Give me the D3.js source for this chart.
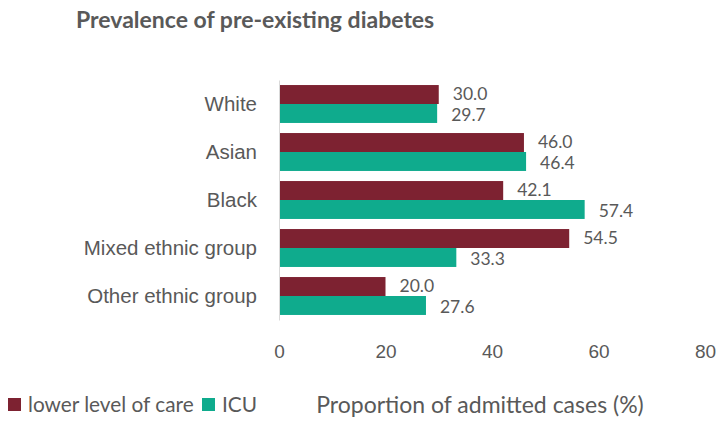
<!DOCTYPE html>
<html>
<head>
<meta charset="utf-8">
<script src="https://cdn.jsdelivr.net/npm/d3@7"></script>
<style>
  html, body { margin: 0; padding: 0; background: #fff; }
  svg { display: block; font-family: Lato, "Open Sans", sans-serif; }
</style>
</head>
<body>
<svg id="chart" width="718" height="421"></svg>
<script>
// Ethnic groups and the share of admitted cases with pre-existing diabetes
const categories = ["White", "Asian", "Black", "Mixed ethnic group", "Other ethnic group"];
const seriesNames = ["lower level of care", "ICU"];
const lowerCare = [30.0, 46.0, 42.1, 54.5, 20.0];
const icu = [29.7, 46.4, 57.4, 33.3, 27.6];
const xTicks = [0, 20, 40, 60, 80];

const colors = { "lower level of care": "#7d2231", "ICU": "#0fab8d" };
const textColor = "#595959";

const svg = d3.select("#chart");

const x = d3.scaleLinear().domain([0, 80]).range([279, 705]);
const y = d3.scaleBand().domain(categories).range([80, 320]).paddingInner(0.21).paddingOuter(0.105);
const ySub = d3.scaleBand().domain(seriesNames).range([0, y.bandwidth()]);

const rows = categories.map((c, i) => ({
  category: c,
  values: [
    { series: "lower level of care", value: lowerCare[i] },
    { series: "ICU", value: icu[i] }
  ]
}));

// Title
svg.append("text")
  .attr("x", 76).attr("y", 28)
  .attr("fill", textColor)
  .attr("font-weight", "bold")
  .attr("font-size", 23)
  .text("Prevalence of pre-existing diabetes");

// Bars
const groups = svg.append("g").selectAll("g")
  .data(rows).join("g")
  .attr("transform", d => `translate(0,${y(d.category)})`);

groups.selectAll("rect")
  .data(d => d.values).join("rect")
  .attr("x", x(0))
  .attr("y", d => ySub(d.series))
  .attr("width", d => x(d.value) - x(0))
  .attr("height", ySub.bandwidth())
  .attr("fill", d => colors[d.series]);

// Value labels, nudged apart so the pair stays readable
groups.selectAll("text")
  .data(d => d.values).join("text")
  .attr("x", d => x(d.value) + 14)
  .attr("y", d => ySub(d.series) + ySub.bandwidth() / 2 + (d.series === "ICU" ? 1 : -0.5))
  .attr("dy", "0.35em")
  .attr("fill", textColor)
  .attr("font-size", 17.5)
  .text(d => d.value.toFixed(1));

// Category axis
const yAxis = svg.append("g")
  .attr("transform", `translate(${x(0)},0)`)
  .call(d3.axisLeft(y).tickSize(0).tickPadding(22));
yAxis.select(".domain").attr("stroke", "#d9d9d9").attr("stroke-width", 1);
yAxis.selectAll("text").attr("fill", textColor).attr("font-size", 20.5).attr("font-family", null);

// Value axis (labels only)
const xAxis = svg.append("g")
  .attr("transform", "translate(0,344)")
  .call(d3.axisBottom(x).tickValues(xTicks).tickSize(0).tickPadding(0).tickFormat(d3.format("d")));
xAxis.select(".domain").remove();
xAxis.selectAll("text").attr("fill", textColor).attr("font-size", 19).attr("font-family", null);

// Legend
const legend = svg.append("g").attr("transform", "translate(8,398)");
const legendX = [0, 194];
seriesNames.forEach((s, i) => {
  const g = legend.append("g").attr("transform", `translate(${legendX[i]},0)`);
  g.append("rect").attr("width", 13).attr("height", 13).attr("fill", colors[s]);
  g.append("text").attr("x", 20).attr("y", 6.5).attr("dy", "0.35em")
    .attr("fill", textColor).attr("font-size", 20.8).text(s);
});

// Value axis title
svg.append("text")
  .attr("x", 480).attr("y", 405).attr("dy", "0.35em")
  .attr("text-anchor", "middle")
  .attr("fill", textColor)
  .attr("font-size", 23)
  .text("Proportion of admitted cases (%)");
</script>
</body>
</html>
